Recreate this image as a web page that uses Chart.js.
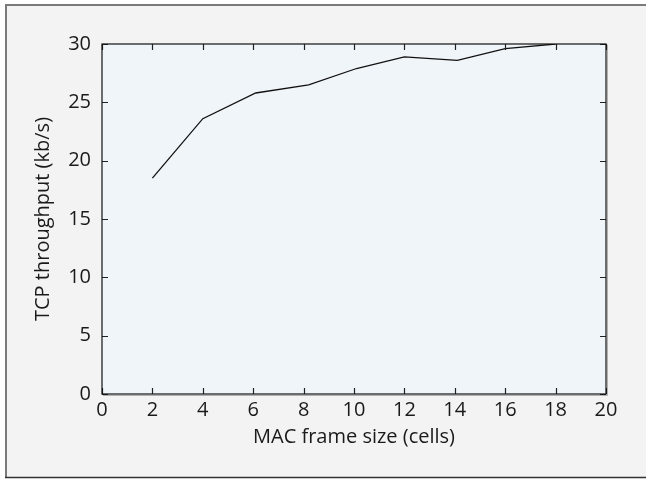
<!DOCTYPE html>
<html>
<head>
<meta charset="utf-8">
<script src="https://cdn.jsdelivr.net/npm/chart.js@4.4.0/dist/chart.umd.min.js"></script>
<style>
  html, body { margin: 0; padding: 0; background: #ffffff; }
  #wrap { width: 646px; height: 480px; position: relative; }
</style>
</head>
<body>
<div id="wrap"><canvas id="chart" width="646" height="480"></canvas></div>
<script>
// data
const frameSize = [2, 4, 6.1, 8.2, 10.1, 12, 14.1, 16, 18];
const throughput = [18.5, 23.6, 25.8, 26.5, 27.9, 28.9, 28.6, 29.6, 30.0];
const xTicks = [0, 2, 4, 6, 8, 10, 12, 14, 16, 18, 20];
const yTicks = [0, 5, 10, 15, 20, 25, 30];

const FONT = { family: "'Open Sans', 'Noto Sans', sans-serif", size: 20 };

// frame, plot background and inward ticks on every side
const framePlugin = {
    id: 'frame',
    beforeDraw(chart) {
        const ctx = chart.ctx;
        const a = chart.chartArea;
        ctx.save();
        ctx.fillStyle = '#f3f3f3';
        ctx.fillRect(5, 5, 660, 472);
        ctx.strokeStyle = '#7a7a7a';
        ctx.lineWidth = 2;
        ctx.beginPath();
        ctx.moveTo(6, 478);
        ctx.lineTo(6, 5);
        ctx.lineTo(660, 5);
        ctx.stroke();
        ctx.strokeStyle = '#333333';
        ctx.lineWidth = 1.5;
        ctx.beginPath();
        ctx.moveTo(5, 477.5);
        ctx.lineTo(660, 477.5);
        ctx.stroke();
        ctx.fillStyle = '#f0f5fa';
        ctx.fillRect(a.left, a.top, a.right - a.left, a.bottom - a.top);
        ctx.restore();
    },
    afterDatasetsDraw(chart) {
        const ctx = chart.ctx;
        const a = chart.chartArea;
        const xs = chart.scales.x, ys = chart.scales.y;
        const len = 6;
        ctx.save();
        ctx.strokeStyle = '#222222';
        ctx.lineWidth = 1.2;
        ctx.beginPath();
        xTicks.forEach(v => {
            const px = Math.round(xs.getPixelForValue(v)) + 0.5;
            ctx.moveTo(px, a.bottom); ctx.lineTo(px, a.bottom - len);
            ctx.moveTo(px, a.top); ctx.lineTo(px, a.top + len);
        });
        yTicks.forEach(v => {
            const py = Math.round(ys.getPixelForValue(v)) + 0.5;
            ctx.moveTo(a.left, py); ctx.lineTo(a.left + len, py);
            ctx.moveTo(a.right, py); ctx.lineTo(a.right - len, py);
        });
        ctx.stroke();
        ctx.strokeStyle = '#b0b0b0';
        ctx.lineWidth = 1;
        ctx.beginPath();
        ctx.moveTo(a.right + 1.5, a.top + 1);
        ctx.lineTo(a.right + 1.5, a.bottom + 1.5);
        ctx.lineTo(a.left + 1, a.bottom + 1.5);
        ctx.stroke();
        ctx.strokeStyle = '#111111';
        ctx.lineWidth = 1.2;
        ctx.strokeRect(a.left, a.top, a.right - a.left, a.bottom - a.top);
        ctx.restore();
    }
};

new Chart(document.getElementById('chart'), {
    type: 'line',
    data: {
        datasets: [{
            data: frameSize.map((x, i) => ({ x: x, y: throughput[i] })),
            borderColor: '#111111',
            borderWidth: 1.3,
            pointRadius: 0,
            tension: 0,
            fill: false
        }]
    },
    options: {
        responsive: false,
        animation: false,
        devicePixelRatio: 1,
        layout: { padding: { left: 0, top: 44, right: 40, bottom: 0 } },
        plugins: { legend: { display: false }, tooltip: { enabled: false } },
        scales: {
            x: {
                type: 'linear',
                min: 0, max: 20,
                afterFit: s => { s.height = 86; },
                afterBuildTicks: s => { s.ticks = xTicks.map(v => ({ value: v })); },
                grid: { display: false, drawTicks: false },
                border: { display: false },
                ticks: { color: '#1a1a1a', font: FONT, padding: 4, maxRotation: 0, autoSkip: false },
                title: { display: true, text: 'MAC frame size (cells)', color: '#1a1a1a', font: FONT, padding: { top: 0, bottom: 31 } }
            },
            y: {
                min: 0, max: 30,
                afterFit: s => { s.width = 102; },
                afterBuildTicks: s => { s.ticks = yTicks.map(v => ({ value: v })); },
                grid: { display: false, drawTicks: false },
                border: { display: false },
                ticks: { color: '#1a1a1a', font: FONT, padding: 11, autoSkip: false },
                title: { display: true, text: 'TCP throughput (kb/s)', color: '#1a1a1a', font: FONT, padding: { top: 31, bottom: 0 } }
            }
        }
    },
    plugins: [framePlugin]
});
</script>
</body>
</html>
